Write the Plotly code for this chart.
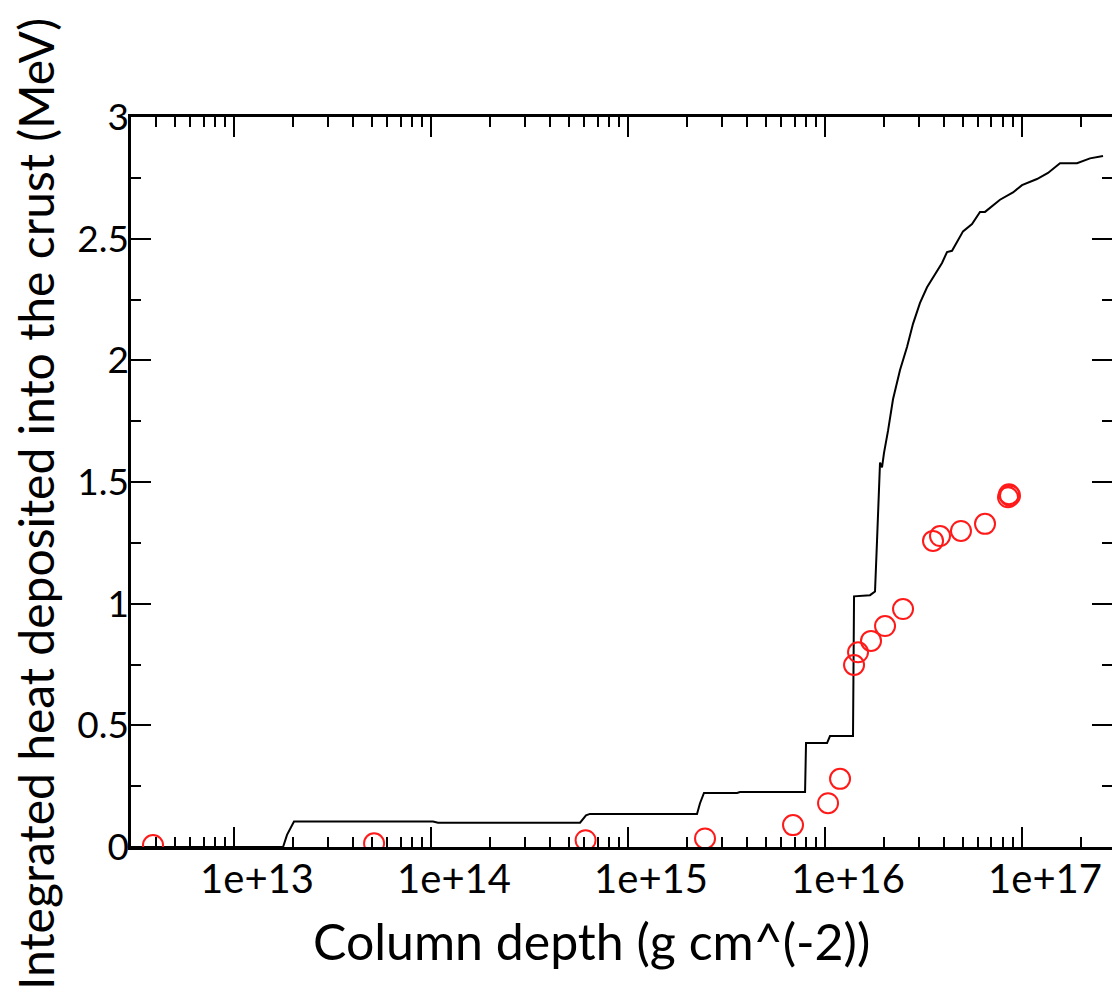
import plotly.graph_objects as go

# Black curve: integrated heat vs column depth
curve_depth = [3.00e12, 1.774e13, 1.858e13, 2.016e13, 1.024e14, 1.085e14, 5.71e14, 6.12e14, 6.41e14,
               2.24e15, 2.32e15, 2.43e15, 3.58e15, 3.70e15, 7.92e15, 8.01e15, 1.024e16, 1.060e16,
               1.387e16, 1.404e16, 1.692e16, 1.794e16, 1.837e16, 1.880e16, 1.902e16, 1.947e16,
               1.993e16, 2.088e16, 2.214e16, 2.403e16, 2.608e16, 2.797e16, 3.035e16, 3.295e16,
               3.703e16, 3.926e16, 4.162e16, 4.413e16, 5.018e16, 5.575e16, 6.12e16, 6.49e16,
               7.73e16, 9.00e16, 1.000e17, 1.073e17, 1.191e17, 1.355e17, 1.559e17, 1.902e17,
               2.214e17, 2.578e17]
curve_heat = [0.0, 0.0, 0.05, 0.105, 0.105, 0.100, 0.100, 0.130, 0.136,
              0.136, 0.18, 0.222, 0.222, 0.226, 0.226, 0.427, 0.427, 0.456,
              0.456, 1.03, 1.035, 1.05, 1.26, 1.45, 1.58, 1.56,
              1.62, 1.71, 1.84, 1.96, 2.055, 2.15, 2.236, 2.30,
              2.37, 2.40, 2.445, 2.45, 2.53, 2.56, 2.61, 2.61,
              2.66, 2.69, 2.72, 2.73, 2.745, 2.77, 2.81, 2.81,
              2.83, 2.84]

# Red open circles
point_depth = [3.88e12, 5.14e13, 6.09e14, 2.46e15, 6.88e15, 1.036e16, 1.192e16, 1.404e16, 1.471e16,
               1.712e16, 2.017e16, 2.489e16, 3.534e16, 3.835e16, 4.90e16, 6.49e16, 8.49e16,
               8.59e16, 8.69e16]
point_heat = [0.008, 0.015, 0.028, 0.035, 0.09, 0.18, 0.28, 0.748, 0.80,
              0.847, 0.908, 0.978, 1.258, 1.278, 1.299, 1.328, 1.437,
              1.45, 1.444]

x_tickvals = [1e13, 1e14, 1e15, 1e16, 1e17]
x_ticktext = ["1e+13", "1e+14", "1e+15", "1e+16", "1e+17"]
x_minor = [m * 10 ** e for e in range(12, 18) for m in range(2, 10)]

FONT = "Lato"

fig = go.Figure()
fig.add_trace(go.Scatter(x=curve_depth, y=curve_heat, mode="lines",
                         line=dict(color="black", width=2), showlegend=False))
fig.add_trace(go.Scatter(x=point_depth, y=point_heat, mode="markers",
                         marker=dict(symbol="circle-open", size=20, color="#ff1a1a",
                                     line=dict(width=2, color="#ff1a1a")),
                         showlegend=False))
fig.add_trace(go.Scatter(x=[1e13], y=[-1], yaxis="y2", mode="markers",
                         marker=dict(opacity=0), showlegend=False, hoverinfo="skip"))

fig.update_layout(
    width=1112, height=998,
    margin=dict(l=131, r=0, t=117, b=151),
    paper_bgcolor="white", plot_bgcolor="white",
    font=dict(family=FONT, color="black"),
    xaxis=dict(type="log", range=[12.4771, 17.4568],
               tickmode="array", tickvals=x_tickvals, ticktext=x_ticktext,
               ticks="inside", ticklen=20, tickwidth=2, tickcolor="black",
               showline=True, linecolor="black", linewidth=2.5, mirror="ticks",
               showgrid=False, zeroline=False,
               tickfont=dict(size=40, family=FONT), ticklabelshift=23,
               ticklabelstandoff=-5,
               minor=dict(tickmode="array", tickvals=x_minor, ticks="inside",
                          ticklen=10, tickwidth=2, tickcolor="black", showgrid=False)),
    yaxis=dict(range=[0, 3], tickmode="linear", tick0=0, dtick=0.5,
               ticks="inside", ticklen=20, tickwidth=2, tickcolor="black",
               showline=True, linecolor="black", linewidth=2.5,
               showgrid=False, zeroline=False,
               tickfont=dict(size=37, family=FONT), ticklabelstandoff=-8,
               minor=dict(dtick=0.25, ticks="inside", ticklen=10, tickwidth=2,
                          tickcolor="black", showgrid=False)),
    yaxis2=dict(range=[0, 3], overlaying="y", side="right", tickmode="linear",
                tick0=0, dtick=0.5, ticks="inside", ticklen=20, tickwidth=2,
                tickcolor="black", showline=False, showgrid=False, zeroline=False,
                showticklabels=False,
                minor=dict(dtick=0.25, ticks="inside", ticklen=10, tickwidth=2,
                           tickcolor="black", showgrid=False)),
    annotations=[
        dict(text="Column depth (g cm^(-2))", xref="paper", yref="paper",
             x=(591 - 131) / 981, y=-(941 - 847) / 730, xanchor="center", yanchor="middle",
             showarrow=False, font=dict(size=50, family=FONT, color="black")),
        dict(text="Integrated heat deposited into the crust (MeV)", xref="paper", yref="paper",
             x=0, xshift=-96, y=(847 - 504) / 730, xanchor="center", yanchor="middle",
             textangle=-90, showarrow=False,
             font=dict(size=48, family=FONT, color="black")),
    ],
)

fig.write_html("out.html")
